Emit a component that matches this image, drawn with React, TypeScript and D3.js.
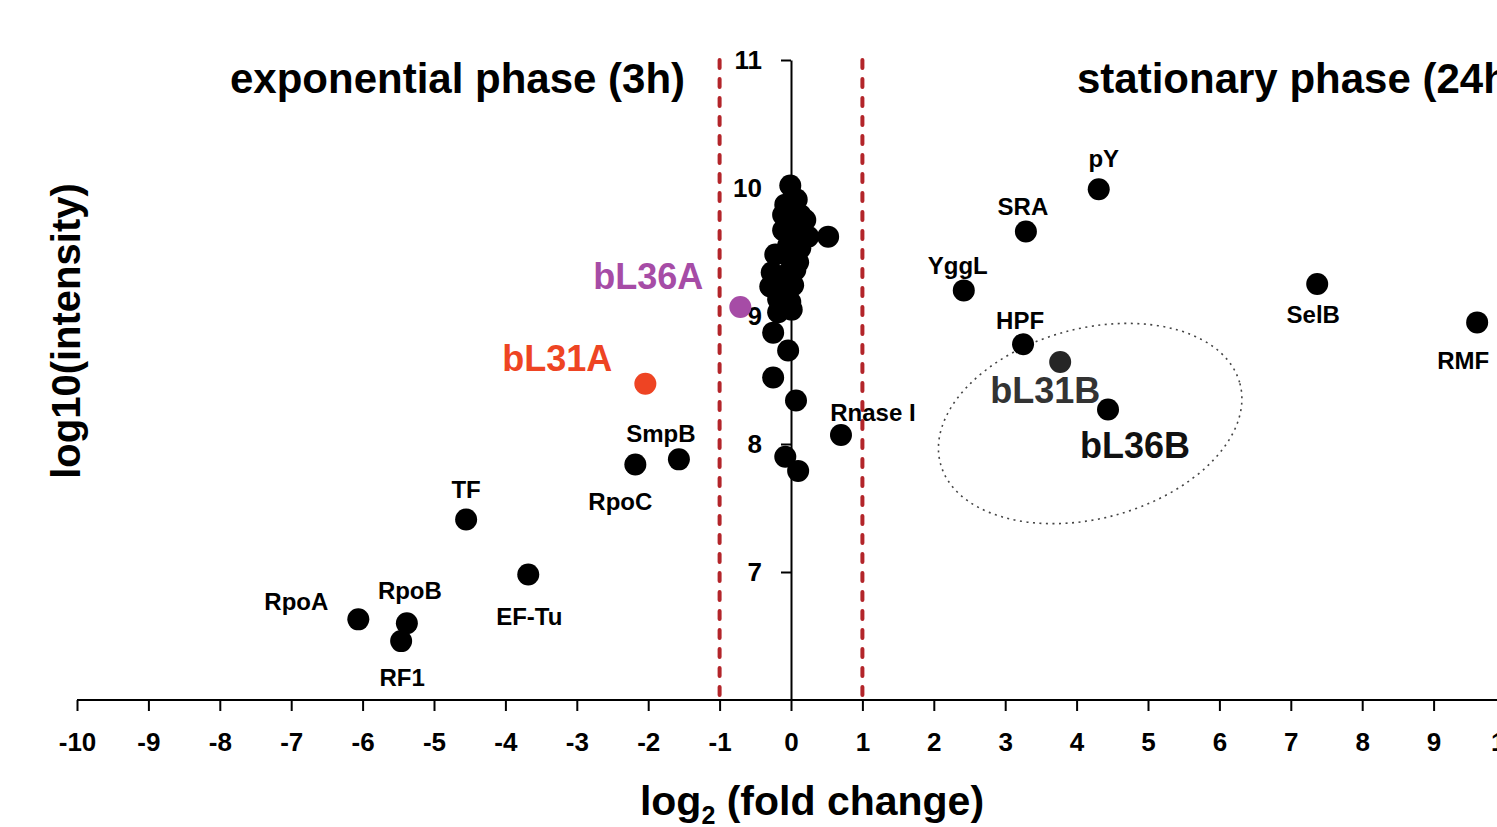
import { useEffect, useRef } from "react";
import * as d3 from "d3";

// x ticks, y ticks
const xTicks = d3.range(-10, 11);
const yTicks = [7, 8, 9, 10, 11];

// unlabelled proteins (log2 fold change, log10 intensity)
const clusterFc = [
  -0.01, -0.08, 0.08, -0.11, 0.13, -0.01, 0.2, -0.11, 0.06, 0.24, -0.04, 0.13, -0.22,
  -0.01, 0.1, -0.27, -0.08, 0.06, -0.29, -0.13, 0.03, -0.18, -0.01, -0.18, 0.01, 0.52,
  -0.25, -0.04, -0.25, 0.07, -0.08, 0.1,
];
const clusterInt = [
  10.02, 9.87, 9.91, 9.79, 9.79, 9.71, 9.75, 9.67, 9.63, 9.62, 9.55, 9.53, 9.48,
  9.45, 9.42, 9.34, 9.32, 9.36, 9.23, 9.2, 9.24, 9.13, 9.11, 9.03, 9.05, 9.62,
  8.87, 8.73, 8.52, 8.34, 7.9, 7.79,
];

// labelled proteins
const names = [
  "RpoA", "RpoB", "RF1", "TF", "EF-Tu", "RpoC", "SmpB", "bL31A", "bL36A", "Rnase I",
  "YggL", "HPF", "bL31B", "bL36B", "SRA", "pY", "SelB", "RMF",
];
const namedFc = [
  -6.06, -5.38, -5.46, -4.55, -3.68, -2.18, -1.57, -2.04, -0.71, 0.7,
  2.42, 3.25, 3.77, 4.44, 3.29, 4.31, 7.37, 9.61,
];
const namedInt = [
  6.63, 6.6, 6.46, 7.41, 6.98, 7.84, 7.88, 8.47, 9.07, 8.07,
  9.2, 8.78, 8.64, 8.27, 9.66, 9.99, 9.25, 8.95,
];

// label placement relative to its dot [dx, dy to baseline], and styling
const labelOffsets: [number, number][] = [
  [-62, -10], [3, -25], [1, 44], [0, -23], [1, 49], [-15, 45], [-18, -18], [-88, -14], [-92, -19], [32, -15],
  [-6, -17], [-3, -16], [-15, 40], [27, 48], [-3, -18], [5, -23], [-4, 38], [-14, 46],
];
const highlight: Record<string, { dot: string; text: string }> = {
  bL31A: { dot: "#ee4423", text: "#ee4423" },
  bL36A: { dot: "#a64ca6", text: "#a64ca6" },
  bL31B: { dot: "#262626", text: "#333333" },
  bL36B: { dot: "#000", text: "#111" },
};

const FONT = "Arial, 'Liberation Sans', sans-serif";

const App = () => {
  const svgRef = useRef<SVGSVGElement | null>(null);

  useEffect(() => {
    const W = 1497;
    const H = 827;
    const svg = d3.select(svgRef.current).attr("width", W).attr("height", H);
    svg.selectAll("*").remove();

    const x = d3.scaleLinear().domain([-10, 10]).range([77, 1505]);
    const y = d3.scaleLinear().domain([6, 11]).range([700, 60]);

    // threshold lines at |log2 FC| = 1
    svg
      .selectAll("line.thr")
      .data([-1, 1])
      .enter()
      .append("line")
      .attr("x1", (d) => x(d))
      .attr("x2", (d) => x(d))
      .attr("y1", y(11))
      .attr("y2", y(6))
      .attr("stroke", "#b3252a")
      .attr("stroke-width", 4)
      .attr("stroke-dasharray", "8,11")
      .attr("stroke-linecap", "round");

    // x axis
    const xAxis = d3
      .axisBottom(x)
      .tickValues(xTicks)
      .tickSize(11)
      .tickSizeOuter(0)
      .tickPadding(22)
      .tickFormat((d) => String(d));
    const gx = svg.append("g").attr("transform", `translate(0,${y(6)})`).call(xAxis);
    gx.select(".domain").attr("stroke", "#000").attr("stroke-width", 2).attr("d", `M${x(-10)},0H${W + 20}`);
    gx.selectAll(".tick line").attr("stroke", "#000").attr("stroke-width", 2);
    gx.selectAll(".tick text")
      .attr("font-family", FONT)
      .attr("font-weight", "bold")
      .attr("font-size", 26)
      .attr("fill", "#000");

    // y axis at x = 0
    const yAxis = d3
      .axisLeft(y)
      .tickValues(yTicks)
      .tickSize(10)
      .tickSizeOuter(0)
      .tickPadding(19)
      .tickFormat((d) => String(d));
    const gy = svg.append("g").attr("transform", `translate(${x(0)},0)`).call(yAxis);
    gy.select(".domain").attr("stroke", "#000").attr("stroke-width", 2);
    gy.selectAll(".tick line").attr("stroke", "#000").attr("stroke-width", 2);
    gy.selectAll(".tick text")
      .attr("font-family", FONT)
      .attr("font-weight", "bold")
      .attr("font-size", 26)
      .attr("fill", "#000");

    // grouping ellipse around bL31B / bL36B
    svg
      .append("ellipse")
      .attr("cx", x(4.19))
      .attr("cy", y(8.16))
      .attr("rx", 155)
      .attr("ry", 95)
      .attr("transform", `rotate(-15, ${x(4.19)}, ${y(8.16)})`)
      .attr("fill", "none")
      .attr("stroke", "#444")
      .attr("stroke-width", 1.6)
      .attr("stroke-dasharray", "2,4.5");

    // unlabelled dots
    svg
      .append("g")
      .selectAll("circle")
      .data(clusterFc)
      .enter()
      .append("circle")
      .attr("cx", (d) => x(d))
      .attr("cy", (d, i) => y(clusterInt[i]))
      .attr("r", 11)
      .attr("fill", "#000");

    // labelled dots
    const named = names.map((n, i) => ({ n, fc: namedFc[i], v: namedInt[i], off: labelOffsets[i] }));
    svg
      .append("g")
      .selectAll("circle")
      .data(named)
      .enter()
      .append("circle")
      .attr("cx", (d) => x(d.fc))
      .attr("cy", (d) => y(d.v))
      .attr("r", 11)
      .attr("fill", (d) => (highlight[d.n] ? highlight[d.n].dot : "#000"));

    svg
      .append("g")
      .selectAll("text")
      .data(named)
      .enter()
      .append("text")
      .attr("x", (d) => x(d.fc) + d.off[0])
      .attr("y", (d) => y(d.v) + d.off[1] + 1)
      .attr("text-anchor", "middle")
      .attr("font-family", FONT)
      .attr("font-weight", "bold")
      .attr("font-size", (d) => (highlight[d.n] ? 36 : 24))
      .attr("fill", (d) => (highlight[d.n] ? highlight[d.n].text : "#000"))
      .text((d) => d.n);

    // phase titles
    svg
      .append("text")
      .attr("x", 230)
      .attr("y", 93)
      .attr("font-family", FONT)
      .attr("font-weight", "bold")
      .attr("font-size", 42)
      .text("exponential phase (3h)");
    svg
      .append("text")
      .attr("x", 1077)
      .attr("y", 93)
      .attr("font-family", FONT)
      .attr("font-weight", "bold")
      .attr("font-size", 42)
      .text("stationary phase (24h)");

    // axis titles
    const xt = svg
      .append("text")
      .attr("x", 812)
      .attr("y", 815)
      .attr("text-anchor", "middle")
      .attr("font-family", FONT)
      .attr("font-weight", "bold")
      .attr("font-size", 41);
    xt.append("tspan").text("log");
    xt.append("tspan").attr("font-size", 25).attr("dy", 9).text("2");
    xt.append("tspan").attr("dy", -9).text(" (fold change)");

    svg
      .append("text")
      .attr("transform", `translate(80, 331) rotate(-90)`)
      .attr("text-anchor", "middle")
      .attr("font-family", FONT)
      .attr("font-weight", "bold")
      .attr("font-size", 40)
      .text("log10(intensity)");
  }, []);

  return (
    <div style={{ position: "fixed", left: 0, top: 0, width: 1497, height: 827, background: "#fff" }}>
      <svg ref={svgRef} style={{ display: "block" }} />
    </div>
  );
};

export default App;
